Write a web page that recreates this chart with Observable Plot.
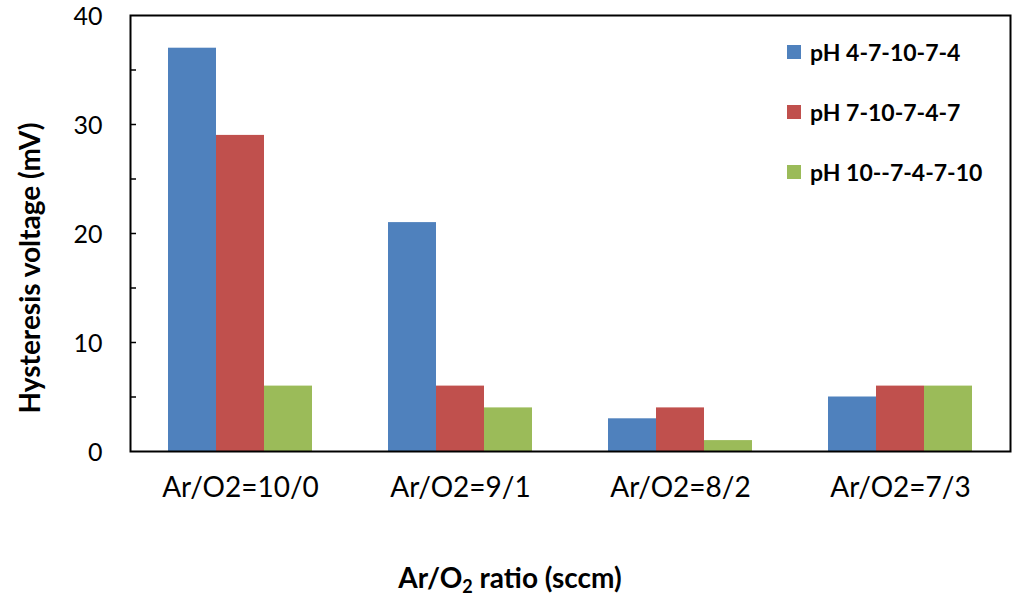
<!DOCTYPE html>
<html>
<head>
<meta charset="utf-8">
<script src="https://cdn.jsdelivr.net/npm/d3@7"></script>
<script src="https://cdn.jsdelivr.net/npm/@observablehq/plot@0.6"></script>
<style>
  body { margin: 0; background: #fff; }
  #wrap { position: relative; width: 1024px; height: 602px; font-family: Lato, "Open Sans", sans-serif; color: #000; }
  #ytitle { position: absolute; left: 29px; top: 268px; transform: translate(-50%, -50%) rotate(-90deg); font-weight: bold; font-size: 28px; white-space: nowrap; }
  #xtitle { position: absolute; left: 510px; top: 577px; transform: translate(-50%, -50%); font-weight: bold; font-size: 28px; white-space: nowrap; }
  #xtitle sub { font-size: 18px; vertical-align: -5px; line-height: 0; }
  #legend { position: absolute; left: 787px; top: 39px; font-weight: bold; font-size: 23px; }
  .li { display: flex; align-items: center; height: 26px; margin-bottom: 34px; }
  .sw { width: 14px; height: 14px; margin-right: 9px; }
</style>
</head>
<body>
<div id="wrap">
  <div id="chart"></div>
  <div id="ytitle">Hysteresis voltage (mV)</div>
  <div id="xtitle">Ar/O<sub>2</sub> ratio (sccm)</div>
  <div id="legend"></div>
</div>
<script>
const categories = ["Ar/O2=10/0", "Ar/O2=9/1", "Ar/O2=8/2", "Ar/O2=7/3"];
const seriesNames = ["pH 4-7-10-7-4", "pH 7-10-7-4-7", "pH 10--7-4-7-10"];
const seriesColors = ["#4F81BD", "#C0504D", "#9BBB59"];
const series1 = [37, 21, 3, 5];
const series2 = [29, 6, 4, 6];
const series3 = [6, 4, 1, 6];
const yTicks = [0, 10, 20, 30, 40];
const yMinorTicks = [5, 10, 15, 20, 25, 30, 35];

const seriesValues = [series1, series2, series3];
const data = [];
categories.forEach((c, i) => {
  seriesNames.forEach((s, j) => data.push({cat: c, series: s, value: seriesValues[j][i]}));
});

const chart = Plot.plot({
  width: 1024,
  height: 602,
  marginLeft: 130,
  marginRight: 14,
  marginTop: 15,
  marginBottom: 151,
  style: {fontFamily: "Lato, 'Open Sans', sans-serif", color: "#000", background: "#fff"},
  y: {domain: [0, 40]},
  fx: {domain: categories, padding: 0},
  x: {domain: seriesNames, paddingInner: 0, paddingOuter: 0.76, axis: null},
  color: {domain: seriesNames, range: seriesColors},
  marks: [
    Plot.barY(data, {fx: "cat", x: "series", y: "value", fill: "series"}),
    Plot.axisY({ticks: yTicks, tickSize: 0, tickPadding: 28, fontSize: 25, dy: 1, label: null}),
    Plot.axisY({ticks: yMinorTicks, tickSize: 6, dx: 6, tickFormat: () => "", strokeWidth: 1.5, label: null}),
    Plot.axisFx({anchor: "bottom", tickSize: 0, tickPadding: 26, fontSize: 28, label: null}),
    Plot.frame({stroke: "#000", strokeWidth: 2, facet: "super"})
  ]
});
document.getElementById("chart").appendChild(chart);

const legend = document.getElementById("legend");
seriesNames.forEach((s, j) => {
  const row = document.createElement("div");
  row.className = "li";
  const sw = document.createElement("div");
  sw.className = "sw";
  sw.style.background = seriesColors[j];
  const t = document.createElement("span");
  t.textContent = s;
  row.appendChild(sw);
  row.appendChild(t);
  legend.appendChild(row);
});
</script>
</body>
</html>
